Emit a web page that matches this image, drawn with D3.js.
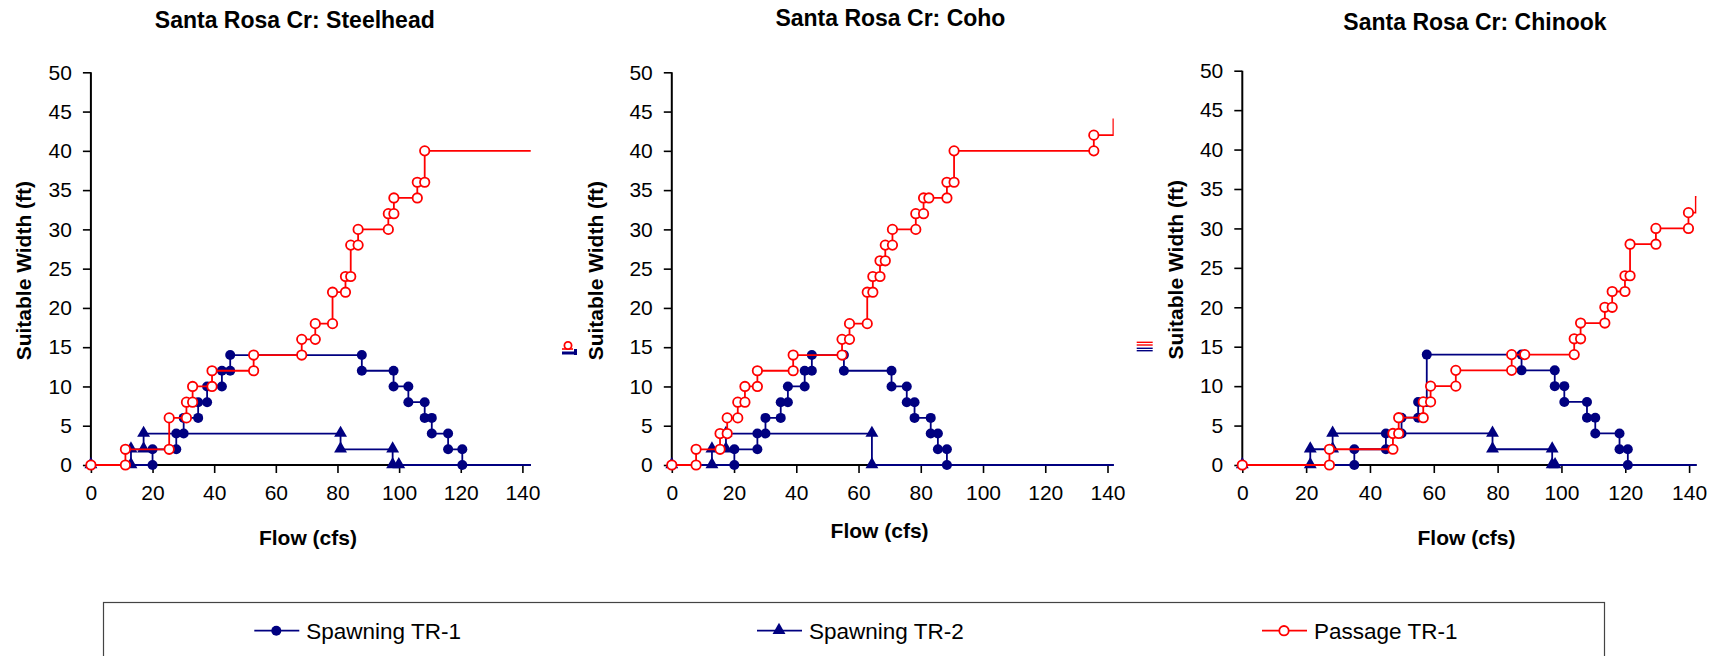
<!DOCTYPE html>
<html>
<head>
<meta charset="utf-8">
<script src="https://cdn.jsdelivr.net/npm/d3@7"></script>
<style>
body{margin:0;background:#fff}
text{font-family:"Liberation Sans",Arial,sans-serif;fill:#000}
</style>
</head>
<body>
<svg id="s"></svg>
<script>
// ---- data (flow cfs, suitable width ft) ----
var flowTicks = [0,20,40,60,80,100,120,140];
var widthTicks = [0,5,10,15,20,25,30,35,40,45,50];
var seriesNames = ['Spawning TR-1','Spawning TR-2','Passage TR-1'];
var panelTitles = ['Santa Rosa Cr: Steelhead','Santa Rosa Cr: Coho','Santa Rosa Cr: Chinook'];

var steelheadSpawn1 = [[0,0],[20,0],[20,2],[27.7,2],[27.7,4],[30.1,4],[30.1,6],[34.8,6],[34.8,8],[37.7,8],[37.7,10],[42.5,10],[42.5,12],[45.2,12],[45.2,14],[87.9,14],[87.9,12],[98.2,12],[98.2,10],[103,10],[103,8],[108.3,8],[108.3,6],[110.6,6],[110.6,4],[115.9,4],[115.9,2],[120.5,2],[120.5,0],[150,0]];
var steelheadSpawn2 = [[0,0],[13,0],[13,2],[17.1,2],[17.1,4],[81,4],[81,2],[97.9,2],[97.9,0],[99.9,0],[150,0]];
var steelheadPassage = [[0,0],[11.2,0],[11.2,2],[25.4,2],[25.4,6],[31,6],[31,8],[33,8],[33,10],[39.3,10],[39.3,12],[52.8,12],[52.8,14],[68.4,14],[68.4,16],[72.8,16],[72.8,18],[78.4,18],[78.4,22],[82.6,22],[82.6,24],[84.3,24],[84.3,28],[86.7,28],[86.7,30],[96.5,30],[96.5,32],[98.3,32],[98.3,34],[105.9,34],[105.9,36],[108.3,36],[108.3,40],[150,40]];

var cohoSpawn1 = [[0,0],[20.1,0],[20.1,2],[27.5,2],[27.5,4],[30.1,4],[30.1,6],[35,6],[35,8],[37.3,8],[37.3,10],[42.7,10],[42.7,12],[45,12],[45,14],[55.3,14],[55.3,12],[70.6,12],[70.6,10],[75.5,10],[75.5,8],[78,8],[78,6],[83.2,6],[83.2,4],[85.5,4],[85.5,2],[88.4,2],[88.4,0],[150,0]];
var cohoSpawn2 = [[0,0],[12.9,0],[12.9,2],[17.4,2],[17.4,4],[64.3,4],[64.3,0],[150,0]];
var cohoPassage = [[0,0],[7.8,0],[7.8,2],[15.5,2],[15.5,4],[17.8,4],[17.8,6],[21.2,6],[21.2,8],[23.5,8],[23.5,10],[27.5,10],[27.5,12],[39,12],[39,14],[54.7,14],[54.7,16],[57.1,16],[57.1,18],[62.8,18],[62.8,22],[64.6,22],[64.6,24],[66.9,24],[66.9,26],[68.6,26],[68.6,28],[70.9,28],[70.9,30],[78.4,30],[78.4,32],[80.9,32],[80.9,34],[82.6,34],[88.4,34],[88.4,36],[90.7,36],[90.7,40],[135.6,40],[135.6,42],[141.9,42],[141.9,44],[150,44]];

var chinookSpawn1 = [[0,0],[35.1,0],[35.1,2],[45,2],[45,4],[49.9,4],[49.9,6],[55.1,6],[55.1,8],[57.8,8],[57.8,14],[87.5,14],[87.5,12],[97.9,12],[97.9,10],[100.9,10],[100.9,8],[108,8],[108,6],[110.6,6],[110.6,4],[118.2,4],[118.2,2],[120.8,2],[120.8,0],[150,0]];
var chinookSpawn2 = [[0,0],[21.3,0],[21.3,2],[28.3,2],[28.3,4],[78.4,4],[78.4,2],[97.1,2],[97.1,0],[98,0],[150,0]];
var chinookPassage = [[0,0],[27.3,0],[27.3,2],[47.2,2],[47.2,4],[49,4],[49,6],[56.7,6],[56.7,8],[59,8],[59,10],[66.9,10],[66.9,12],[84.4,12],[84.4,14],[88.5,14],[104,14],[104,16],[106,16],[106,18],[113.6,18],[113.6,20],[115.9,20],[115.9,22],[119.9,22],[119.9,24],[121.5,24],[121.5,28],[129.6,28],[129.6,30],[139.8,30],[139.8,32],[142.1,32],[142.1,34],[150,34]];

var W = 1717, H = 656;
var navy = '#000080', red = '#ff0000';

var svg = d3.select('#s').attr('width', W).attr('height', H);

var panels = [
  {title: panelTitles[0], series: [steelheadSpawn1, steelheadSpawn2, steelheadPassage],
   left: 90.9, right: 522.4, top: 72.3, bottom: 465, axisEnd: 142.7, clipEnd: 142.7,
   tx: 294.8, ty: 20, yTitleX: 23.6, fx: 307.9, fy: 537},
  {title: panelTitles[1], series: [cohoSpawn1, cohoSpawn2, cohoPassage],
   left: 671.8, right: 1107.5, top: 72.3, bottom: 465, axisEnd: 140, clipEnd: 142,
   tx: 890.4, ty: 18.3, yTitleX: 595, fx: 879.6, fy: 530},
  {title: panelTitles[2], series: [chinookSpawn1, chinookSpawn2, chinookPassage],
   left: 1242.3, right: 1689.1, top: 70.7, bottom: 465, axisEnd: 142.3, clipEnd: 142.3,
   tx: 1475, ty: 21.7, yTitleX: 1175, fx: 1466.5, fy: 537}
];

function drawMarker(sel, k, x, y){
  if(k === 0){
    sel.append('circle').attr('cx', x).attr('cy', y).attr('r', 5).attr('fill', navy);
  } else if(k === 1){
    sel.append('path').attr('d', d3.symbol(d3.symbolTriangle, 72)())
      .attr('transform', 'translate(' + x + ',' + (y - 0.5) + ')').attr('fill', navy);
  } else {
    sel.append('circle').attr('cx', x).attr('cy', y).attr('r', 4.7)
      .attr('fill', '#fff').attr('stroke', red).attr('stroke-width', 1.8);
  }
}

panels.forEach(function(p, i){
  var x = d3.scaleLinear().domain([0,140]).range([p.left, p.right]);
  var y = d3.scaleLinear().domain([0,50]).range([p.bottom, p.top]);
  var g = svg.append('g');

  g.append('clipPath').attr('id', 'clip' + i).append('rect')
    .attr('x', p.left - 2).attr('y', 0)
    .attr('width', x(p.clipEnd) - p.left + 2).attr('height', H);

  // y axis
  var ya = g.append('g').attr('transform', 'translate(' + p.left + ',0)')
    .call(d3.axisLeft(y).tickValues(widthTicks).tickSize(8).tickPadding(11).tickSizeOuter(0));
  ya.select('.domain').remove();
  ya.selectAll('line').attr('stroke', '#000').attr('stroke-width', 1.6);
  ya.selectAll('text').style('font-size', '21px').attr('fill', '#000');
  g.append('line').attr('x1', p.left).attr('x2', p.left)
    .attr('y1', y(0)).attr('y2', y(50)).attr('stroke', '#000').attr('stroke-width', 2);

  // x axis
  var xa = g.append('g').attr('transform', 'translate(0,' + p.bottom + ')')
    .call(d3.axisBottom(x).tickValues(flowTicks).tickSize(8).tickPadding(12).tickSizeOuter(0));
  xa.select('.domain').remove();
  xa.selectAll('line').attr('stroke', '#000').attr('stroke-width', 1.6);
  xa.selectAll('text').style('font-size', '21px').attr('fill', '#000');
  g.append('line').attr('x1', p.left).attr('x2', x(p.axisEnd))
    .attr('y1', y(0)).attr('y2', y(0)).attr('stroke', '#000').attr('stroke-width', 2);

  // titles
  g.append('text').attr('x', p.tx).attr('y', p.ty + 8).attr('text-anchor', 'middle')
    .style('font-size', '23px').style('font-weight', 'bold').text(p.title);
  g.append('text').attr('x', p.fx).attr('y', p.fy + 7.5).attr('text-anchor', 'middle')
    .style('font-size', '21px').style('font-weight', 'bold').text('Flow (cfs)');
  var cy = (p.top + p.bottom) / 2 + 2;
  g.append('text').attr('transform', 'translate(' + (p.yTitleX + 7.5) + ',' + cy + ') rotate(-90)')
    .attr('text-anchor', 'middle').style('font-size', '21px').style('font-weight', 'bold')
    .text('Suitable Width (ft)');

  // series
  var line = d3.line().x(function(d){return x(d[0]);}).y(function(d){return y(d[1]);});
  p.series.forEach(function(s, k){
    var col = k === 2 ? red : navy;
    g.append('path').datum(s).attr('d', line).attr('fill', 'none')
      .attr('stroke', col).attr('stroke-width', 1.8)
      .attr('clip-path', 'url(#clip' + i + ')');
    var mg = g.append('g');
    s.filter(function(d){return d[0] <= 140;}).forEach(function(d){
      drawMarker(mg, k, x(d[0]), y(d[1]));
    });
  });
});

// remnants of the per-chart legends peeking out
var r1 = svg.append('g');
r1.append('line').attr('x1', 562).attr('x2', 573).attr('y1', 349).attr('y2', 349).attr('stroke', red).attr('stroke-width', 1.6);
r1.append('circle').attr('cx', 568).attr('cy', 345.5).attr('r', 3.6).attr('fill', '#fff').attr('stroke', red).attr('stroke-width', 1.8);
r1.append('rect').attr('x', 562).attr('y', 351.5).attr('width', 15).attr('height', 3).attr('fill', navy);
r1.append('rect').attr('x', 574).attr('y', 349).attr('width', 3).attr('height', 6).attr('fill', navy);
var r2 = svg.append('g');
[[342.3, red],[345, red],[348.3, navy],[350.7, navy]].forEach(function(l){
  r2.append('line').attr('x1', 1136.7).attr('x2', 1152.7).attr('y1', l[0]).attr('y2', l[0])
    .attr('stroke', l[1]).attr('stroke-width', 1.4);
});

// legend
var lg = svg.append('g');
lg.append('rect').attr('x', 103.5).attr('y', 602.5).attr('width', 1501).attr('height', 80)
  .attr('fill', 'none').attr('stroke', '#444').attr('stroke-width', 1.2);
var legendX = [254.3, 757, 1262];
seriesNames.forEach(function(name, k){
  var lx = legendX[k], ly = 630.7;
  var col = k === 2 ? red : navy;
  lg.append('line').attr('x1', lx).attr('x2', lx + 45).attr('y1', ly).attr('y2', ly)
    .attr('stroke', col).attr('stroke-width', 1.8);
  drawMarker(lg, k, lx + 22, ly);
  lg.append('text').attr('x', lx + 52).attr('y', ly + 8).style('font-size', '22.5px').text(name);
});
</script>
</body>
</html>
